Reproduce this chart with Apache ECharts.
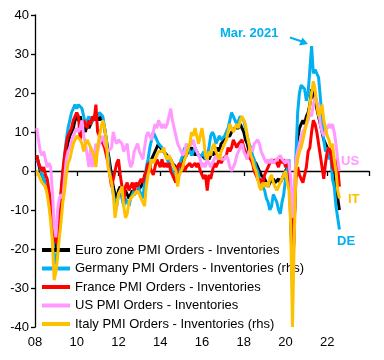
<!DOCTYPE html>
<html><head><meta charset="utf-8">
<script src="https://cdn.jsdelivr.net/npm/echarts@6/dist/echarts.min.js"></script>
<style>html,body{margin:0;padding:0;background:#fff}#c{width:384px;height:360px}</style>
</head><body><div id="c"></div>
<script>
// Monthly data, Jan 2008 .. Jul 2022
const firstYear = 2008;
const xTickYears = [2008, 2010, 2012, 2014, 2016, 2018, 2020, 2022];
const xTickLabels = ['08', '10', '12', '14', '16', '18', '20', '22'];
const yTickValues = [-40, -30, -20, -10, 0, 10, 20, 30, 40];

const euroZone = [
  4, 2, 0, -1, -2, -4, -5, -7, -10, -14, -18, -20,
  -17, -12, -6, -1, 3, 5, 7, 9, 10, 11, 13, 14,
  13, 14, 12, 11, 10, 12, 11, 12, 13, 14, 13, 14,
  13, 14, 13, 11, 8, 5, 2, -1, -4, -6, -7, -5,
  -4, -5, -6, -5, -6, -7, -6, -5, -6, -6, -5, -5,
  -4, -3, -2, -1, 0, 1, 3, 4, 5, 5, 7, 6,
  6, 5, 5, 4, 4, 3, 2, 2, 1, -1, 0, 2,
  3, 3, 4, 5, 5, 6, 5, 4, 5, 4, 4, 4,
  4, 3, 4, 3, 4, 5, 4, 5, 6, 5, 7, 7,
  8, 9, 9, 9, 10, 10, 11, 11, 11, 12, 11, 10,
  8, 7, 5, 4, 3, 3, 2, 1, 0, -1, -1, -2,
  -3, -4, -3, -3, -2, -3, -3, -2, -3, -2, -1, 0,
  1, 0, -12, -28, -14, 2, 8, 11, 12, 13, 12, 14,
  15, 17, 21, 19, 18, 16, 14, 12, 10, 8, 7, 6,
  5, 4, 3, 0, -3, -7, -10
];
const germany = [
  3, 2, 1, -1, -2, -4, -5, -8, -11, -16, -21, -24,
  -21, -15, -8, -1, 4, 8, 11, 13, 15, 16, 17, 16,
  17, 17, 16, 14, 12, 13, 14, 12, 13, 14, 15, 14,
  15, 15, 14, 11, 8, 4, 0, -3, -6, -8, -9, -6,
  -5, -7, -9, -7, -8, -9, -7, -6, -5, -4, -3, -5,
  -6, -7, -3, 1, 3, 6, 8, 10, 9, 8, 7, 7,
  6, 5, 4, 3, 2, 1, 0, -1, -2, -1, 1, 3,
  4, 6, 5, 6, 5, 4, 5, 6, 5, 4, 4, 4,
  5, 3, 4, 6, 9, 10, 9, 7, 8, 9, 8, 8,
  9, 10, 11, 13, 15, 14, 13, 12, 13, 14, 14, 13,
  11, 9, 7, 6, 4, 3, 1, 0, -2, -3, -4, -5,
  -7, -8, -10, -9, -6, -7, -8, -10, -11, -8, -6, -2,
  1, 3, -8, -30, -15, 4, 15, 20, 22, 22, 21, 18,
  20, 26, 32, 25, 26, 25, 24, 19, 14, 8, 5, 6,
  3, 4, -2, -4, -9, -12, -15
];
const france = [
  4, 2, 1, 0, 1, -1, -2, -5, -8, -12, -16, -18,
  -19, -12, -5, 0, 4, 7, 9, 10, 11, 13, 14, 15,
  14, 8, 11, 13, 12, 11, 13, 12, 14, 13, 17, 10,
  9, 8, 7, 6, 4, 2, -1, -4, -2, 0, 2, 3,
  -1, -4, -8, -4, -3, -5, -4, -3, -5, -3, -4, -3,
  -2, -3, -1, 0, 2, 1, 0, -1, 1, 3, 2, 1,
  3, 1, 2, 1, 2, 0, -1, -2, -3, 1, 2, 1,
  2, 0, 1, 1, 2, 1, 1, 2, 1, 2, 0, -1,
  -2, -1, -5, -1, -2, 0, 2, 1, 1, 3, 2, 3,
  3, 4, 6, 5, 6, 8, 7, 6, 7, 7, 8, 6,
  5, 4, 4, 3, 2, 0, -1, -2, -3, -2, -3, -1,
  0, 1, 2, 3, 2, 3, 2, 1, 3, 2, 3, 1,
  2, 1, -5, -28, -14, -2, 1, -1, -2, -3, -3, 1,
  5, 6, 10, 13, 12, 10, 7, 4, 1, -2, 2, 5,
  6, 5, 1, 0, 3, 1, -4
];
const us = [
  11, 8, 5, 4, 5, 3, 1, 2, 1, -5, -14, -17,
  -10, -7, -6, -7, -2, 3, 5, 6, 8, 9, 9, 11,
  10, 11, 13, 9, 7, 4, 1, 6, 1, 4, 7, 5,
  7, 8, 9, 7, 6, 5, 5, 6, 10, 8, 7, 8,
  8, 7, 5, 6, 7, 3, 1, 2, 5, 6, 7, 5,
  4, 3, 6, 9, 10, 9, 8, 10, 12, 11, 13, 12,
  11, 12, 11, 12, 14, 16, 13, 11, 9, 7, 6, 5,
  4, 5, 7, 6, 6, 7, 8, 6, 5, 4, 3, 1,
  2, 1, 3, 2, 1, 1, 3, 4, 3, 4, 3, 3,
  3, 4, 3, 1, 0, 1, 2, 4, 5, 6, 7, 5,
  4, 3, 5, 6, 5, 7, 7, 8, 7, 5, 4, 3,
  2, 3, 2, 3, 2, 2, 3, 3, 4, 3, 3, 2,
  3, 2, -2, -12, -4, 3, 5, 7, 9, 10, 11, 12,
  13, 15, 14, 17, 19, 18, 16, 12, 10, 9, 10, 11,
  12, 11, 12, 10, 7, 3, 0
];
const italy = [
  0, -1, -2, -3, -3, -4, -6, -9, -13, -18, -28, -26,
  -22, -17, -13, -8, -5, -1, 2, 3, 5, 7, 8, 9,
  9, 8, 7, 5, 7, 8, 7, 6, 5, 4, 1, 6,
  9, 11, 13, 11, 8, 1, -1, -3, -6, -12, -9, -6,
  -5, -4, -9, -12, -11, -8, -7, -7, -6, -6, -5, -6,
  -7, -8, -9, -4, -1, 1, 3, 2, 3, 4, 5, 5,
  5, 6, 4, 3, 4, 3, 2, 1, 0, -4, -1, 0,
  1, 3, 4, 6, 7, 10, 9, 11, 9, 7, 9, 11,
  8, 4, 3, 5, 4, 6, 7, 5, 4, 3, 5, 6,
  7, 8, 10, 12, 11, 10, 11, 12, 11, 13, 14, 13,
  12, 9, 7, 4, 3, 1, 0, -2, -4, -5, -3, -4,
  -3, -4, -2, -1, -3, -4, -5, -4, -3, -2, -1, 0,
  -3, -5, -14, -40, -18, 0, 3, 5, 6, 8, 10, 12,
  14, 17, 20, 23, 21, 17, 14, 15, 17, 13, 11, 9,
  8, 6, 7, 3, 0, -5, -7
];

const seriesNames = [
  'Euro zone PMI Orders - Inventories',
  'Germany PMI Orders - Inventories (rhs)',
  'France PMI Orders - Inventories',
  'US PMI Orders - Inventories',
  'Italy PMI Orders - Inventories (rhs)'
];
const seriesColors = ['#000000', '#00B0F0', '#FF0000', '#FF99FF', '#FFC000'];
const seriesValues = [euroZone, germany, france, us, italy];

function toPoints(vals) {
  return vals.map((v, i) => [firstYear + (i + 1) / 12, v]);
}

const FONT = 'Liberation Sans';
const chart = echarts.init(document.getElementById('c'), null, { renderer: 'canvas' });
chart.setOption({
  animation: false,
  backgroundColor: '#ffffff',
  textStyle: { fontFamily: FONT },
  grid: { left: 35, top: 15, width: 334, height: 312 },
  xAxis: [
    {
      type: 'value', min: 2008, max: 2024, interval: 2, position: 'top',
      axisLine: { show: true, onZero: true, lineStyle: { color: '#000', width: 1.3 } },
      axisTick: { show: true, inside: true, length: 5, lineStyle: { color: '#000', width: 1.3 } },
      axisLabel: { show: false },
      splitLine: { show: false }
    },
    {
      type: 'value', min: 2008, max: 2024, interval: 2, position: 'bottom',
      axisLine: { show: false, onZero: false },
      axisTick: { show: false },
      splitLine: { show: false },
      axisLabel: {
        show: true, margin: 9, fontSize: 13, color: '#000', fontFamily: FONT,
        formatter: v => { const k = xTickYears.indexOf(Math.round(v)); return k >= 0 ? xTickLabels[k] : ''; }
      }
    }
  ],
  yAxis: {
    type: 'value', min: yTickValues[0], max: yTickValues[yTickValues.length - 1], interval: 10,
    axisLine: { show: true, lineStyle: { color: '#000', width: 1.3 } },
    axisTick: { show: true, length: 4, lineStyle: { color: '#000', width: 1.3 } },
    axisLabel: { fontSize: 13, color: '#000', margin: 6, fontFamily: FONT },
    splitLine: { show: false }
  },
  legend: {
    orient: 'vertical', left: 42, top: 243, padding: 0,
    icon: 'rect', itemWidth: 28, itemHeight: 4, itemGap: 4.5,
    textStyle: { fontSize: 13, lineHeight: 14, color: '#000', fontFamily: FONT },
    data: seriesNames
  },
  series: seriesValues.map((vals, k) => ({
    name: seriesNames[k], type: 'line', xAxisIndex: 0,
    data: toPoints(vals), showSymbol: false, symbol: 'none',
    color: seriesColors[k],
    lineStyle: { color: seriesColors[k], width: 3 },
    z: 2 + k
  })),
  graphic: [
    { type: 'text', left: 220, top: 27, z: 100,
      style: { text: 'Mar. 2021', fill: '#00B0F0', font: 'bold 13px ' + FONT } },
    { type: 'line', z: 100, shape: { x1: 290, y1: 37.5, x2: 302, y2: 41.5 },
      style: { stroke: '#00B0F0', lineWidth: 2 } },
    { type: 'polygon', z: 100, shape: { points: [[308, 44], [299, 45.5], [302.5, 37.5]] },
      style: { fill: '#00B0F0' } },
    { type: 'text', left: 341, top: 155, z: 100,
      style: { text: 'US', fill: '#FF99FF', font: 'bold 13px ' + FONT } },
    { type: 'text', left: 348, top: 193, z: 100,
      style: { text: 'IT', fill: '#FFC000', font: 'bold 13px ' + FONT } },
    { type: 'text', left: 337, top: 235, z: 100,
      style: { text: 'DE', fill: '#00B0F0', font: 'bold 13px ' + FONT } }
  ]
});
</script>
</body></html>
